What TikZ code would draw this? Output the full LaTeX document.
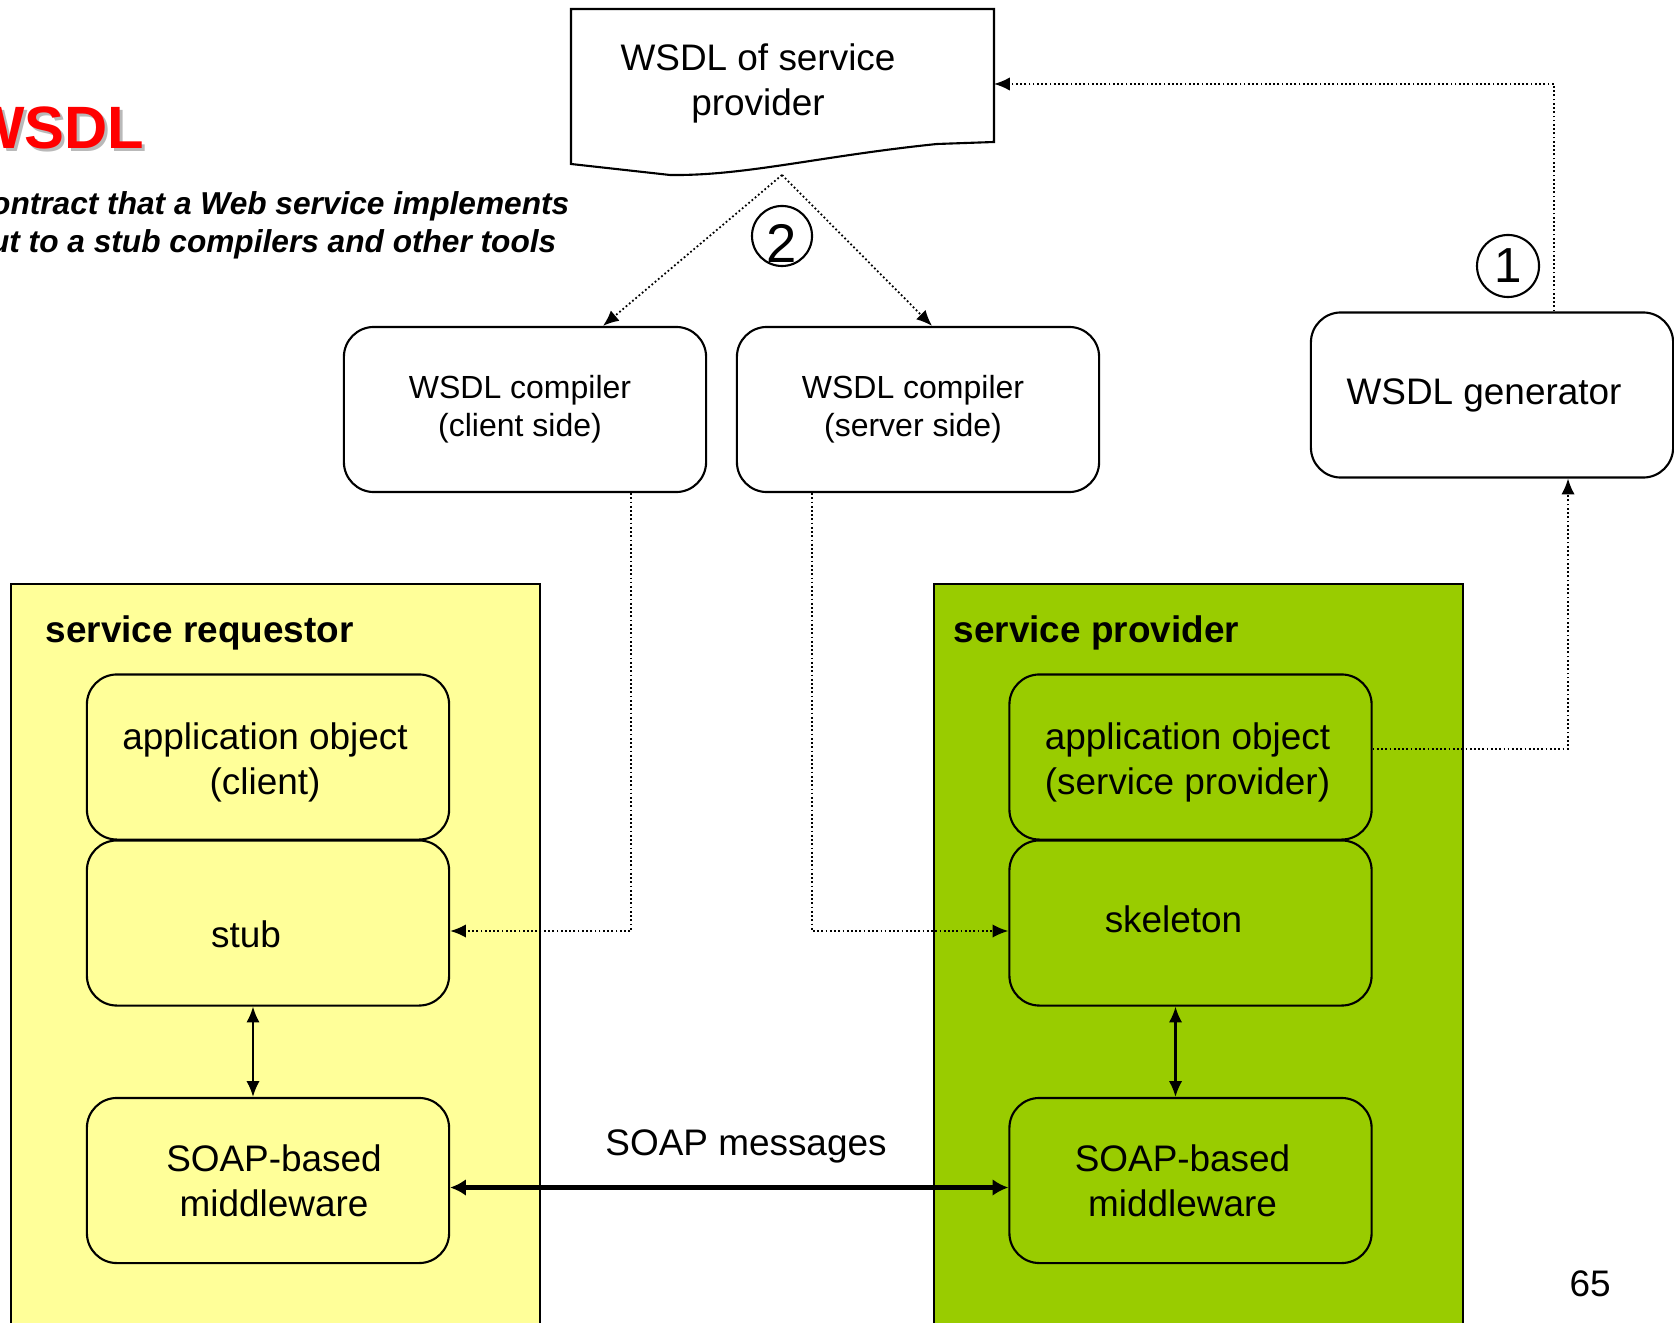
\documentclass[tikz,border=0pt]{standalone}
\usepackage{fontspec}
\setmainfont{Liberation Sans}
\usepackage{tikz}
\usetikzlibrary{arrows,arrows.meta,backgrounds,calc}
\definecolor{reqyellow}{HTML}{FFFF99}
\definecolor{provgreen}{HTML}{99CC00}
\definecolor{titlered}{HTML}{FF0000}

\begin{document}
\begin{tikzpicture}[x=0.01cm,y=-0.01cm,
  txt/.style={font=\fontsize{10.5}{12.8}\selectfont},
  box/.style={draw,line width=0.6pt,rounded corners=0.3cm,minimum width=3.62cm,minimum height=1.65cm,align=center,inner sep=0pt,txt},
  compbox/.style={box,font=\fontsize{9.1}{10.9}\selectfont},
  num/.style={draw,circle,line width=0.6pt,inner sep=0pt},
  dotarrow/.style={line width=0.5pt,dash pattern=on 0.5pt off 0.7pt,-{Latex[length=4.5pt,width=3.8pt]}},
  panel/.style={draw,line width=0.6pt}
]
\useasboundingbox (0,0) rectangle (1674,1322);
\clip (0,0) rectangle (1674,1322);

% slide title
\node[anchor=east,inner sep=0pt,text=gray!55,font=\fontsize{17}{20}\selectfont\bfseries] (titleshadow) at (148,131) {WSDL};
\node[anchor=east,inner sep=0pt,text=titlered,font=\fontsize{17}{20}\selectfont\bfseries] (title) at (145,128) {WSDL};
\node[anchor=east,inner sep=0pt,font=\fontsize{9}{11}\selectfont\bfseries\itshape] (sub1) at (570,206) {ontract that a Web service implements};
\node[anchor=east,inner sep=0pt,font=\fontsize{9}{11}\selectfont\bfseries\itshape] (sub2) at (557,244) {ut to a stub compilers and other tools};

% WSDL document
\draw[line width=0.6pt,fill=white] (571,9) -- (994,9) -- (994,142) -- (937,144)
  .. controls (820,156) and (745,176) .. (670,175) -- (571,164) -- cycle;
\node[align=center,txt] (doc) at (758,83) {WSDL of service\\provider};
\coordinate (docE) at (994,84);
\coordinate (apex) at (782,175);

% tools
\node[compbox] (ccl) at (525,409.5) {WSDL compiler\hspace*{0.1cm}\\(client side)\hspace*{0.1cm}};
\node[compbox] (ccs) at (918,409.5) {WSDL compiler\hspace*{0.1cm}\\(server side)\hspace*{0.1cm}};
\node[box] (gen) at (1492,395) {WSDL generator\hspace*{0.16cm}};
\node[num,minimum size=0.62cm,label={[font=\fontsize{14}{16}\selectfont]center:1}] (one) at (1508,266) {};
\node[num,minimum size=0.6cm,label={[font=\fontsize{15.5}{18}\selectfont,yshift=-0.07cm]center:2}] (two) at (782,236) {};

% service requestor
\draw[panel,fill=reqyellow] (11,584) rectangle (540,1340);
\node[anchor=west,inner sep=0pt,txt,font=\fontsize{10.5}{12.8}\selectfont\bfseries] (reqname) at (45,633) {service requestor};
\node[box,fill=reqyellow,label={[txt,align=center,xshift=-0.03cm,yshift=-0.05cm]center:application object\\(client)}] (appc) at (268,757) {};
\node[box,fill=reqyellow,label={[txt,xshift=-0.22cm,yshift=-0.11cm]center:stub}] (stub) at (268,923) {};
\node[box,fill=reqyellow] (midc) at (268,1180.5) {\hspace*{0.12cm}SOAP-based\\\hspace*{0.12cm}middleware};

% service provider
\draw[panel,fill=provgreen] (934,584) rectangle (1463,1340);
\node[anchor=west,inner sep=0pt,txt,font=\fontsize{10.5}{12.8}\selectfont\bfseries] (provname) at (953,633) {service provider};
\node[box,fill=provgreen,label={[txt,align=center,xshift=-0.03cm,yshift=-0.05cm]center:application object\\(service provider)}] (appp) at (1190.5,757) {};
\node[box,fill=provgreen,label={[txt,xshift=-0.17cm,yshift=0.04cm]center:skeleton}] (skel) at (1190.5,923) {};
\node[box,fill=provgreen] (midp) at (1190.5,1180.5) {SOAP-based\hspace*{0.16cm}\\middleware\hspace*{0.16cm}};

% connectors
\draw[dotarrow] (apex) -- ($(ccl.north)+(78,0)$);
\draw[dotarrow] (apex) -- ($(ccs.north)+(14,0)$);
\draw[dotarrow] ($(gen.north)+(62,0)$) |- (docE);
\draw[dotarrow] ($(appp.east)+(0,-8)$) -| ($(gen.south)+(76,0)$);
\draw[dotarrow] ($(ccl.south)+(106,0)$) |- ($(stub.east)+(0,8)$);
\draw[dotarrow] ($(ccs.south)+(-106,0)$) |- ($(skel.west)+(0,8)$);
\draw[line width=0.6pt,{Latex[length=4.5pt,width=3.8pt]}-{Latex[length=4.5pt,width=3.8pt]}] ($(stub.south)+(-15,0)$) -- ($(midc.north)+(-15,0)$);
\draw[line width=0.6pt,{Latex[length=4.5pt,width=3.8pt]}-{Latex[length=4.5pt,width=3.8pt]}] ($(skel.south)+(-15,0)$) -- ($(midp.north)+(-15,0)$);
\draw[line width=1.4pt,{Latex[length=4.5pt,width=4.8pt]}-{Latex[length=4.5pt,width=4.8pt]}] ($(midc.east)+(0,7)$) -- ($(midp.west)+(0,7)$);
\node[txt] (soapmsg) at (746,1146) {SOAP messages};

\node[txt] (pageno) at (1590,1284) {65};
\end{tikzpicture}
\end{document}
